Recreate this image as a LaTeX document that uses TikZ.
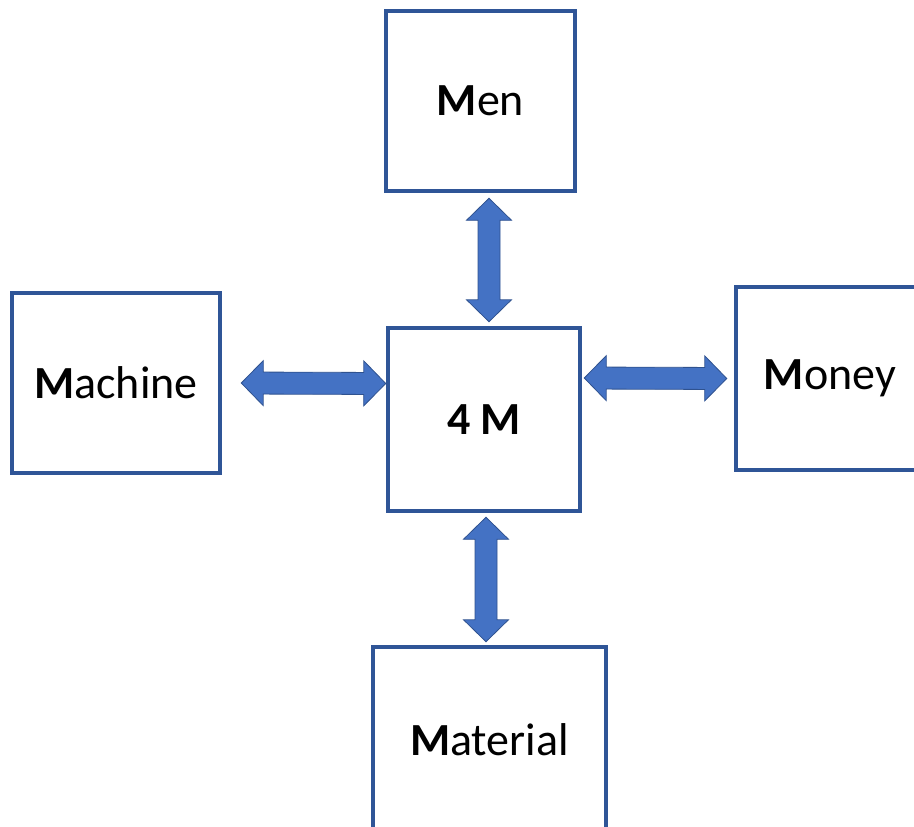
\documentclass[tikz,border=0pt]{standalone}
\usepackage{fontspec}
\setmainfont{Carlito}
\usetikzlibrary{calc}

\definecolor{boxblue}{HTML}{2F5597}
\definecolor{arrowfill}{HTML}{4472C4}
\definecolor{arrowedge}{HTML}{2F528F}

\begin{document}
\begin{tikzpicture}[
    x=1pt, y=-1pt,
    font=\fontsize{46}{54}\selectfont,
    box/.style={draw=boxblue, line width=4.5pt, fill=white, align=center, inner sep=0pt},
    blockarrow/.style={fill=arrowfill, draw=arrowedge, line width=0.8pt, line join=miter,
        to path={(\tikztostart)
            -- ($(\tikztostart)!22pt!(\tikztotarget)!22.5pt!90:(\tikztotarget)$)
            -- ($(\tikztostart)!22pt!(\tikztotarget)!11pt!90:(\tikztotarget)$)
            -- ($(\tikztotarget)!22pt!(\tikztostart)!11pt!-90:(\tikztostart)$)
            -- ($(\tikztotarget)!22pt!(\tikztostart)!22.5pt!-90:(\tikztostart)$)
            -- (\tikztotarget)
            -- ($(\tikztotarget)!22pt!(\tikztostart)!22.5pt!90:(\tikztostart)$)
            -- ($(\tikztotarget)!22pt!(\tikztostart)!11pt!90:(\tikztostart)$)
            -- ($(\tikztostart)!22pt!(\tikztotarget)!11pt!-90:(\tikztotarget)$)
            -- ($(\tikztostart)!22pt!(\tikztotarget)!22.5pt!-90:(\tikztotarget)$)
            -- cycle}}
]
\clip (0,0) rectangle (914,827);

\node[box, minimum width=189pt, minimum height=180pt] (men) at (480.5,101) {\textbf{M}en};
\node[box, minimum width=192pt, minimum height=183pt] (fourm) at (484,419.5) {\textbf{4 M}};
\node[box, minimum width=208pt, minimum height=180pt] (machine) at (116,383) {\textbf{M}achine};
\node[box, minimum width=188pt, minimum height=183pt] (money) at (830,378.5) {\textbf{M}oney};
\node[box, minimum width=233pt, minimum height=186pt] (material) at (489.5,740) {\textbf{M}aterial};

\draw[blockarrow] ([xshift=8.5pt,yshift=-5pt]men.south) to ([xshift=5pt,yshift=4pt]fourm.north);
\draw[blockarrow] ([xshift=19pt]machine.east) to ([yshift=36pt]fourm.west);
\draw[blockarrow] ([xshift=2pt,yshift=41.5pt]fourm.east) to ([xshift=-7pt]money.west);
\draw[blockarrow] ([xshift=2pt,yshift=-4pt]fourm.south) to ([xshift=-3.5pt,yshift=3pt]material.north);

\end{tikzpicture}
\end{document}
